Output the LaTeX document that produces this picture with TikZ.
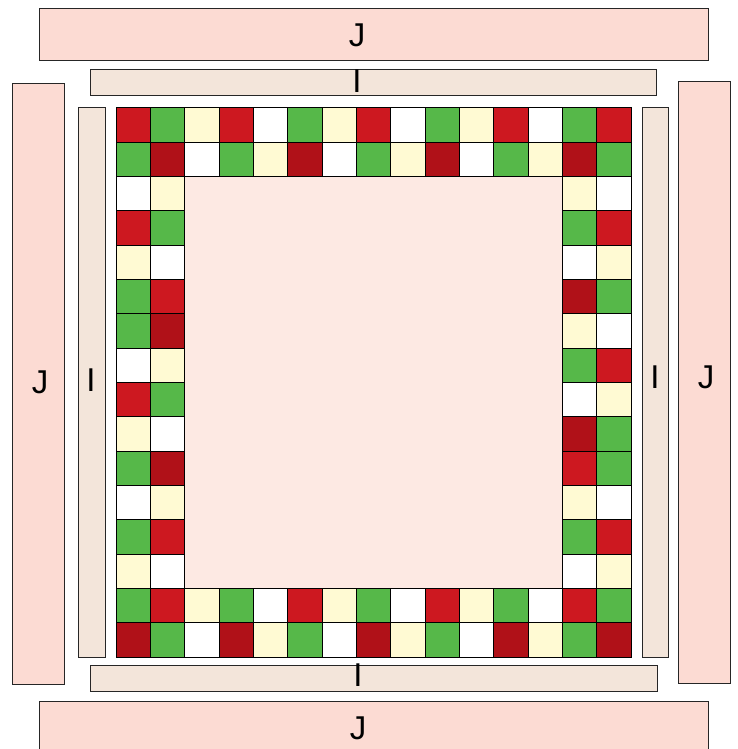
\documentclass[tikz,border=0pt]{standalone}
\usepackage{fontspec}
\setmainfont{Liberation Sans}
\definecolor{colR}{RGB}{205,24,32}
\definecolor{colD}{RGB}{176,17,24}
\definecolor{colG}{RGB}{86,184,73}
\definecolor{colY}{RGB}{255,250,211}
\definecolor{colJ}{RGB}{252,219,211}
\definecolor{colI}{RGB}{243,229,218}
\definecolor{colIn}{RGB}{253,233,227}
\begin{document}
\begin{tikzpicture}[x=1pt,y=-1pt,
  cR/.style={fill=colR},
  cD/.style={fill=colD},
  cG/.style={fill=colG},
  cY/.style={fill=colY},
  cW/.style={fill=white},
  cell/.style={draw=black,line width=1pt},
  jbar/.style={draw=black!85,line width=1pt,fill=colJ,inner sep=0pt},
  ibar/.style={draw=black!85,line width=1pt,fill=colI,inner sep=0pt},
  lbl/.style={font=\fontsize{33}{33}\selectfont,inner sep=0pt,text=black}]
\useasboundingbox (0,0) rectangle (737,749);
% bars
\node[jbar,minimum width=669,minimum height=52] (jtop) at (373.5,35) {};
\node[jbar,minimum width=669,minimum height=52] (jbot) at (373.5,727) {};
\node[jbar,minimum width=52,minimum height=600] (jleft) at (38,384) {};
\node[jbar,minimum width=52,minimum height=601] (jright) at (704,382.5) {};
\node[ibar,minimum width=566,minimum height=26] (itop) at (373,83) {};
\node[ibar,minimum width=567,minimum height=26] (ibot) at (373.5,678) {};
\node[ibar,minimum width=27,minimum height=549] (ileft) at (91.5,382.5) {};
\node[ibar,minimum width=26,minimum height=549] (iright) at (655,382.5) {};
% labels
\node[lbl] (tjtop) at (357,35) {J};
\node[lbl] (titop) at (357,81) {I};
\node[lbl] (tjbot) at (358,728) {J};
\node[lbl] (tibot) at (358,675) {I};
\node[lbl] (tjleft) at (40,382) {J};
\node[lbl] (tileft) at (91,380) {I};
\node[lbl] (tiright) at (655,377) {I};
\node[lbl] (tjright) at (706,377) {J};
% inner region
\def\gx{116}\def\gy{108}\def\cw{34.3333}\def\ch{34.3125}
\fill[colIn] (185,177) rectangle (563,588);
% top two rows and bottom two rows
\foreach \r/\lst in {0/{R,G,Y,R,W,G,Y,R,W,G,Y,R,W,G,R},
                     1/{G,D,W,G,Y,D,W,G,Y,D,W,G,Y,D,G},
                     14/{G,R,Y,G,W,R,Y,G,W,R,Y,G,W,R,G},
                     15/{D,G,W,D,Y,G,W,D,Y,G,W,D,Y,G,D}}{
  \foreach \c [count=\i from 0] in \lst {
    \draw[cell,c\c] (\gx+\i*\cw,\gy+\r*\ch) rectangle ++(\cw,\ch);
  }
}
% side columns rows 2..13
\foreach \r/\a/\b/\p/\q in {2/W/Y/Y/W,3/R/G/G/R,4/Y/W/W/Y,5/G/R/D/G,6/G/D/Y/W,
  7/W/Y/G/R,8/R/G/W/Y,9/Y/W/D/G,10/G/D/R/G,11/W/Y/Y/W,12/G/R/G/R,13/Y/W/W/Y}{
  \draw[cell,c\a] (\gx,\gy+\r*\ch) rectangle ++(\cw,\ch);
  \draw[cell,c\b] (\gx+\cw,\gy+\r*\ch) rectangle ++(\cw,\ch);
  \draw[cell,c\p] (\gx+13*\cw,\gy+\r*\ch) rectangle ++(\cw,\ch);
  \draw[cell,c\q] (\gx+14*\cw,\gy+\r*\ch) rectangle ++(\cw,\ch);
}
\end{tikzpicture}
\end{document}
